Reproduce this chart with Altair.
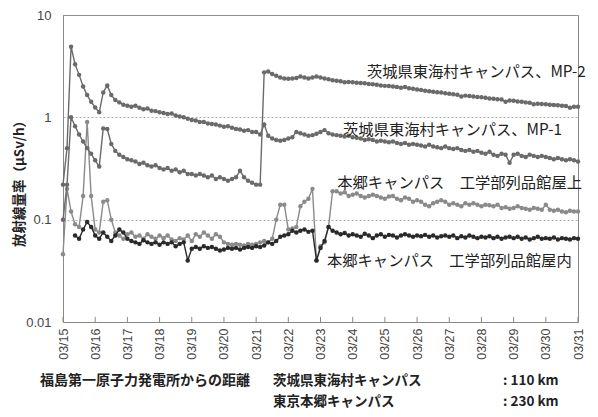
import altair as alt
import pandas as pd

# sampling grid: every 3 hours from 03/15 00:00 to 03/31 00:00
TIMES = pd.date_range("2011-03-15 00:00", periods=129, freq="3h")

MP1 = [
    0.22, 0.5, 4.9, 3.3, 2.6, 2.0, 1.65, 1.42,
    1.25, 1.12, 1.75, 2.05, 1.65, 1.48, 1.4, 1.33,
    1.3, 1.27, 1.3, 1.24, 1.2, 1.22, 1.16, 1.15,
    1.12, 1.1, 1.08, 1.09, 1.04, 1.02, 1.0, 0.97,
    0.94, 0.93, 0.9, 0.9, 0.87, 0.86, 0.85, 0.83,
    0.81, 0.82, 0.79, 0.77, 0.76, 0.74, 0.75, 0.72,
    0.72, 0.68, 0.85, 0.66, 0.62, 0.6, 0.59, 0.6,
    0.62, 0.64, 0.72, 0.7, 0.68, 0.66, 0.67, 0.69,
    0.72, 0.75, 0.7, 0.68, 0.67, 0.66, 0.65, 0.66,
    0.64, 0.63, 0.62, 0.6, 0.61, 0.6, 0.58, 0.59,
    0.58, 0.57, 0.58, 0.56, 0.55, 0.56, 0.54, 0.55,
    0.54, 0.53, 0.52, 0.54, 0.52, 0.51, 0.5, 0.52,
    0.5, 0.49, 0.5, 0.48, 0.47, 0.48, 0.46, 0.47,
    0.45, 0.44, 0.46, 0.43, 0.42, 0.44, 0.43, 0.36,
    0.43, 0.44, 0.42, 0.41, 0.43, 0.42, 0.41, 0.42,
    0.41, 0.4, 0.39, 0.4, 0.39, 0.38, 0.39, 0.38,
    0.37,
]

MP2 = [
    0.1, 0.22, 1.0, 0.82, 0.68, 0.58, 0.5, 0.44,
    0.38, 0.33, 0.78, 0.77, 0.55, 0.47, 0.43, 0.41,
    0.39, 0.38, 0.37, 0.35, 0.36, 0.34, 0.33, 0.34,
    0.32, 0.31, 0.32, 0.3, 0.31, 0.29, 0.3, 0.28,
    0.28, 0.27, 0.28, 0.27, 0.26, 0.27, 0.25, 0.26,
    0.25, 0.24, 0.25, 0.26, 0.3, 0.26, 0.24, 0.23,
    0.22, 0.22, 2.75, 2.8, 2.65, 2.55, 2.45, 2.4,
    2.38, 2.4, 2.42, 2.5, 2.45, 2.4, 2.45, 2.5,
    2.45, 2.4, 2.35, 2.3, 2.28, 2.25, 2.2, 2.22,
    2.2, 2.18, 2.16, 2.15, 2.12, 2.1, 2.08, 2.05,
    2.03, 2.02, 2.0, 1.98, 1.95, 1.98, 1.92, 1.9,
    1.87, 1.85, 1.82, 1.8, 1.78, 1.76, 1.75, 1.72,
    1.7, 1.68, 1.66, 1.6, 1.63, 1.62, 1.6, 1.58,
    1.57, 1.55, 1.53, 1.52, 1.5, 1.49, 1.42, 1.46,
    1.45, 1.43, 1.42, 1.4, 1.39, 1.34, 1.36, 1.35,
    1.34, 1.33, 1.32, 1.31, 1.3, 1.29, 1.24, 1.27,
    1.27,
]

ROOF = [
    0.046, 0.2, 0.12, 0.09, 0.085, 0.17, 0.9, 0.17,
    0.08, 0.075, 0.15, 0.155, 0.1, 0.075, 0.07, 0.065,
    0.072, 0.075, 0.068, 0.07, 0.065, 0.072, 0.068, 0.065,
    0.07, 0.066, 0.07, 0.064, 0.062, 0.066, 0.064, 0.07,
    0.062, 0.072, 0.068, 0.075, 0.07, 0.065, 0.072, 0.068,
    0.06, 0.058, 0.057, 0.058, 0.057, 0.056, 0.058, 0.057,
    0.058, 0.06, 0.062, 0.06, 0.065, 0.1, 0.14, 0.14,
    0.08, 0.082, 0.085, 0.135, 0.15, 0.16, 0.2, 0.04,
    0.055, 0.06, 0.085, 0.19, 0.19, 0.18, 0.185, 0.17,
    0.175, 0.18, 0.17, 0.165, 0.17, 0.175, 0.17, 0.165,
    0.16, 0.168, 0.17, 0.16, 0.155, 0.165, 0.16, 0.15,
    0.155, 0.15, 0.14, 0.135, 0.145, 0.15, 0.155, 0.15,
    0.14, 0.145, 0.14, 0.135, 0.145, 0.14, 0.145, 0.14,
    0.135, 0.14, 0.138, 0.135, 0.14, 0.13, 0.132, 0.128,
    0.13, 0.135, 0.13, 0.128, 0.125, 0.13, 0.128, 0.125,
    0.14, 0.125, 0.122, 0.125, 0.12, 0.118, 0.122, 0.12,
    0.12,
]

INDOOR = [
    None, None, None, 0.07, 0.065, 0.08, 0.095, 0.085,
    0.07, 0.065, 0.075, 0.068, 0.062, 0.07, 0.08, 0.075,
    0.065, 0.062, 0.06, 0.058, 0.063, 0.06, 0.058, 0.06,
    0.057, 0.06, 0.058, 0.06, 0.055, 0.058, 0.06, 0.04,
    0.052, 0.054, 0.052, 0.055, 0.053, 0.054, 0.052, 0.05,
    0.051, 0.053, 0.052, 0.053, 0.051, 0.053, 0.054, 0.053,
    0.055, 0.054, 0.056, 0.06, 0.058, 0.062, 0.068, 0.07,
    0.072, 0.078, 0.075, 0.078, 0.08, 0.076, 0.078, 0.04,
    0.053, 0.062, 0.085, 0.078, 0.075, 0.072, 0.074, 0.07,
    0.072, 0.07, 0.068, 0.073, 0.07, 0.066, 0.07, 0.072,
    0.068, 0.071, 0.07, 0.067, 0.07, 0.072, 0.07, 0.068,
    0.07, 0.069, 0.071, 0.068, 0.07, 0.067, 0.069, 0.07,
    0.068, 0.07, 0.066, 0.069, 0.067, 0.07, 0.068, 0.066,
    0.068, 0.067, 0.069, 0.066, 0.068, 0.065, 0.067, 0.068,
    0.066, 0.068, 0.065, 0.067, 0.064, 0.066, 0.068, 0.065,
    0.066, 0.065, 0.067, 0.064, 0.066, 0.065, 0.064, 0.066,
    0.065,
]

SERIES = [("roof", ROOF, "#8a8a8a"), ("mp1", MP1, "#6a6a6a"),
          ("mp2", MP2, "#6a6a6a"), ("indoor", INDOOR, "#2a2a2a")]

LABELS = ["茨城県東海村キャンパス、MP-2", "茨城県東海村キャンパス、MP-1",
          "本郷キャンパス　工学部列品館屋上", "本郷キャンパス　工学部列品館屋内"]
LABEL_T = ["2011-03-24T10:35:00", "2011-03-23T16:48:00",
           "2011-03-23T12:30:00", "2011-03-23T04:48:00"]
LABEL_V = [2.79, 0.76, 0.226, 0.0394]

TICK_DAYS = list(range(15, 32))
Y_TICKS = [0.01, 0.1, 1, 10]

JP = "Noto Sans CJK JP"
W, H = 515, 307

x_enc = alt.X(
    "t:T", title=None,
    scale=alt.Scale(domain=[alt.DateTime(year=2011, month=3, date=15),
                            alt.DateTime(year=2011, month=3, date=31)]),
    axis=alt.Axis(values=[alt.DateTime(year=2011, month=3, date=d) for d in TICK_DAYS],
                  format="%m/%d", labelAngle=270, labelAlign="right",
                  labelBaseline="middle", labelFontSize=12.5, labelColor="#444",
                  labelFont="Liberation Sans", ticks=False, grid=False,
                  domainColor="#888", labelPadding=6, labelOverlap=False,
                  labelBound=False, labelFlush=False),
)
y_enc = alt.Y(
    "v:Q", title="放射線量率（μSv/h）",
    scale=alt.Scale(type="log", domain=[0.01, 10], nice=False),
    axis=alt.Axis(values=Y_TICKS, format="~g", grid=True, gridDash=[2, 2],
                  gridColor="#999", gridWidth=0.8, ticks=False, domainColor="#888",
                  labelFontSize=13, labelColor="#444", labelFont="Liberation Sans",
                  labelPadding=12, titleFont=JP, titleFontSize=13.5,
                  titleFontWeight="bold", titleColor="#222", titleAngle=270,
                  titleX=-44, titleY=165, titleBaseline="middle", titleAlign="center"),
)

layers = []
for name, vals, col in SERIES:
    d = pd.DataFrame({"t": [t.strftime("%Y-%m-%dT%H:%M:%S") for t in TIMES], "v": vals})
    d = d.dropna()
    b = alt.Chart(d)
    layers.append(b.mark_line(color=col, strokeWidth=1.4).encode(x=x_enc, y=y_enc))
    layers.append(b.mark_circle(color=col, size=20, opacity=1).encode(x=x_enc, y=y_enc))

ticks_df = pd.DataFrame({"t": [f"2011-03-{d:02d}T00:00:00" for d in TICK_DAYS]})
layers.append(alt.Chart(ticks_df).mark_rule(color="#888").encode(
    x=x_enc, y=alt.value(H), y2=alt.value(H - 5)))

lab_df = pd.DataFrame({"t": LABEL_T, "v": LABEL_V, "txt": LABELS})
layers.append(alt.Chart(lab_df).mark_text(
    align="left", baseline="middle", font=JP, fontSize=15.3, color="#222").encode(
    x=x_enc, y=y_enc, text="txt:N"))

CAP1 = ["福島第一原子力発電所からの距離"]
CAP2 = ["茨城県東海村キャンパス", "東京本郷キャンパス"]
CAP3 = [": 110 km", ": 230 km"]

cap1 = pd.DataFrame({"txt": CAP1, "px": [-23], "py": [366]})
cap2 = pd.DataFrame({"txt": CAP2, "px": [210, 210], "py": [366, 387]})
cap3 = pd.DataFrame({"txt": CAP3, "px": [440, 440], "py": [366, 387]})
for dfc, fs in [(cap1, 14), (cap2, 13.5), (cap3, 13.5)]:
    layers.append(alt.Chart(dfc).mark_text(
        align="left", baseline="middle", font=JP, fontSize=fs, fontWeight="bold",
        color="#222").encode(
        x=alt.X("px:Q", scale=None), y=alt.Y("py:Q", scale=None), text="txt:N"))

chart = alt.layer(*layers).properties(
    width=W, height=H,
    autosize=alt.AutoSizeParams(type="none"),
    padding={"left": 55, "top": 7, "right": 12, "bottom": 87},
).configure_view(stroke="#888", strokeWidth=1)

chart.save("out.html", embed_options={"renderer": "svg", "actions": False})
